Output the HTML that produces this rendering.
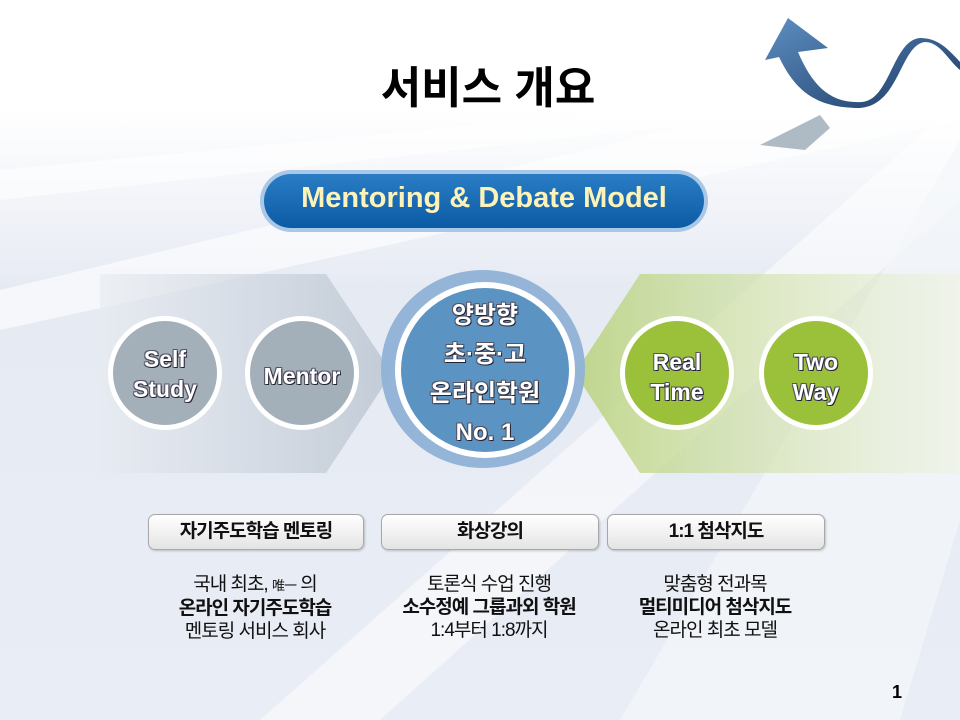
<!DOCTYPE html>
<html><head><meta charset="utf-8"><style>
body{margin:0;width:960px;height:720px;overflow:hidden;font-family:"Liberation Sans","Noto Sans CJK KR",sans-serif;}
#c{position:relative;width:960px;height:720px;background:#fff;}
.t{position:absolute;text-align:center;}
.circ{color:#fff;font-weight:bold;font-size:23px;line-height:30px;text-shadow:1px 1px 0 #223,-1px -1px 0 #556,1px -1px 0 #556,-1px 1px 0 #556;}
.box{position:absolute;top:514px;height:34px;border:1px solid #a8a8a8;border-radius:7px;background:linear-gradient(#fff,#e4e4e4);font-weight:bold;font-size:19px;letter-spacing:-1px;line-height:34px;text-align:center;color:#111;box-shadow:1px 1px 2px rgba(0,0,0,.2);}
.desc{position:absolute;top:573px;width:240px;text-align:center;font-size:19px;letter-spacing:-1px;line-height:23px;color:#111;}
</style></head><body><div id="c">
<svg width="960" height="720" style="position:absolute;left:0;top:0">
<defs>
<linearGradient id="bg" x1="0" y1="0" x2="0" y2="1"><stop offset="0" stop-color="#fff"/><stop offset=".15" stop-color="#fff"/><stop offset=".4" stop-color="#e6eaf3"/><stop offset="1" stop-color="#e9edf5"/></linearGradient>
<linearGradient id="lb" x1="0" y1="0" x2="1" y2="0"><stop offset="0" stop-color="#e6eaf0" stop-opacity=".6"/><stop offset="1" stop-color="#b9c3cf" stop-opacity=".8"/></linearGradient>
<linearGradient id="rb" x1="0" y1="0" x2="1" y2="0"><stop offset="0" stop-color="#b8d27a" stop-opacity=".85"/><stop offset="1" stop-color="#eef3de" stop-opacity=".5"/></linearGradient>
<linearGradient id="pill" x1="0" y1="0" x2="0" y2="1"><stop offset="0" stop-color="#2a7dc4"/><stop offset="1" stop-color="#0b5aa5"/></linearGradient>
<linearGradient id="arr" x1="0" y1="0" x2="1" y2="1"><stop offset="0" stop-color="#5d8fc2"/><stop offset="1" stop-color="#1d3a63"/></linearGradient>
</defs>
<rect width="960" height="720" fill="url(#bg)"/>
<polygon points="960,60 960,120 0,330 0,290" fill="#fff" opacity=".6"/>
<polygon points="960,100 960,200 380,720 260,720" fill="#fff" opacity=".5"/>
<polygon points="960,140 960,520 900,720 620,720" fill="#f4f6fa" opacity=".7"/>
<polygon points="960,80 960,95 0,200 0,170" fill="#fff" opacity=".6"/>
<polygon points="820,115 760,145 805,150 830,128" fill="#9aaab5" opacity=".8"/>
<path d="M788,18 L765,60 L779,57 C795,90 815,108 860,108 C900,105 900,45 925,42 C940,42 948,60 960,70 L960,62 C945,45 935,38 920,38 C893,40 890,100 862,102 C830,104 812,85 798,52 L828,48 Z" fill="url(#arr)"/>
<polygon points="100,274 326,274 392,373 326,473 100,473" fill="url(#lb)"/>
<polygon points="640,274 960,274 960,473 640,473 575,373" fill="url(#rb)"/>
<rect x="260" y="170" width="448" height="62" rx="31" fill="#a9c7e6"/>
<rect x="264" y="174" width="440" height="54" rx="27" fill="url(#pill)"/>
<circle cx="165" cy="373" r="57" fill="#fff"/><circle cx="165" cy="373" r="52" fill="#a3b0ba"/>
<circle cx="302" cy="373" r="57" fill="#fff"/><circle cx="302" cy="373" r="52" fill="#a3b0ba"/>
<ellipse cx="483" cy="369" rx="102" ry="99" fill="#8fb2d6" opacity=".95"/>
<ellipse cx="485" cy="370" rx="90" ry="88" fill="#fff"/>
<ellipse cx="485" cy="370" rx="84" ry="82" fill="#5b93c2"/>
<circle cx="677" cy="373" r="57" fill="#fff"/><circle cx="677" cy="373" r="52" fill="#9bc03a"/>
<circle cx="816" cy="373" r="57" fill="#fff"/><circle cx="816" cy="373" r="52" fill="#9bc03a"/>
</svg>
<div class="t" style="left:0;width:976px;top:52px;font-size:44px;font-weight:bold;color:#000">서비스 개요</div>
<div class="t" style="left:264px;width:440px;top:182px;font-size:29px;font-weight:bold;color:#fdf3b8">Mentoring &amp; Debate Model</div>
<div class="t circ" style="left:108px;width:114px;top:344px">Self<br>Study</div>
<div class="t circ" style="left:245px;width:114px;top:361px">Mentor</div>
<div class="t circ" style="left:395px;width:180px;top:296px;line-height:39px;font-size:24px">양방향<br>초·중·고<br>온라인학원<br>No. 1</div>
<div class="t circ" style="left:620px;width:114px;top:347px">Real<br>Time</div>
<div class="t circ" style="left:759px;width:114px;top:347px">Two<br>Way</div>
<div class="box" style="left:148px;width:214px">자기주도학습 멘토링</div>
<div class="box" style="left:381px;width:216px">화상강의</div>
<div class="box" style="left:607px;width:216px">1:1 첨삭지도</div>
<div class="desc" style="left:135px">국내 최초, <span style="font-size:13px">唯一</span> 의<br><b>온라인 자기주도학습</b><br>멘토링 서비스 회사</div>
<div class="desc" style="left:369px">토론식 수업 진행<br><b>소수정예 그룹과외 학원</b><br>1:4부터 1:8까지</div>
<div class="desc" style="left:595px">맞춤형 전과목<br><b>멀티미디어 첨삭지도</b><br>온라인 최초 모델</div>
<div class="t" style="left:885px;width:24px;top:682px;font-size:18px;font-weight:bold">1</div>
</div></body></html>
